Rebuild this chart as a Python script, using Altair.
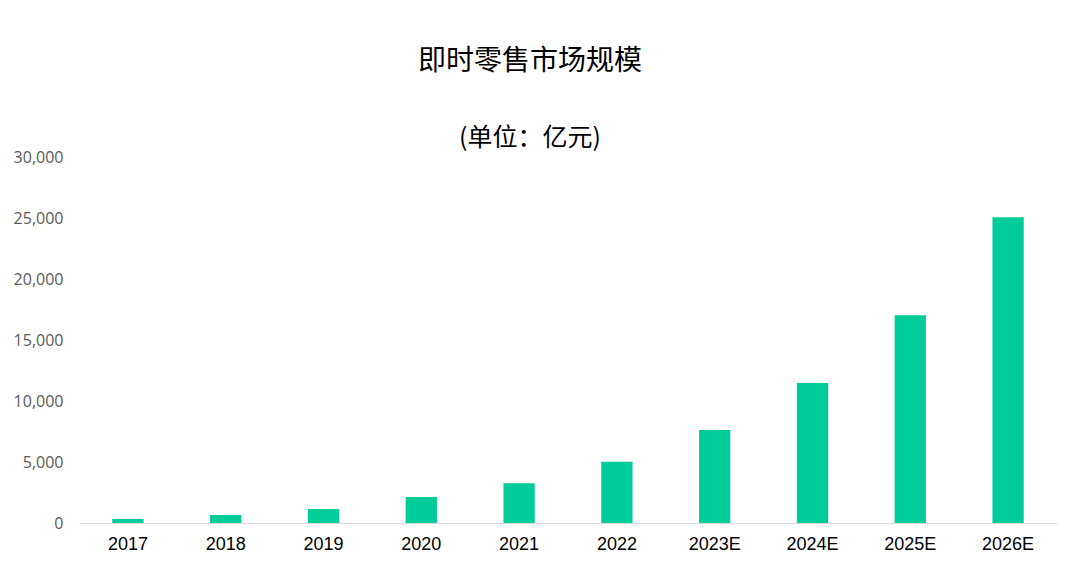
import altair as alt
import pandas as pd

years = ["2017", "2018", "2019", "2020", "2021", "2022", "2023E", "2024E", "2025E", "2026E"]
values = [330, 650, 1150, 2130, 3250, 5020, 7620, 11480, 17020, 25060]

df = pd.DataFrame({"year": years, "value": values})

chart = alt.Chart(df).mark_bar(color="#00CC99").encode(
    x=alt.X("year:N", sort=years, title=None,
            scale=alt.Scale(paddingInner=0.68, paddingOuter=0.34),
            axis=alt.Axis(labelAngle=0, labelFont="Liberation Sans", labelFontSize=18,
                          labelColor="#000000", labelPadding=12, ticks=False,
                          domainColor="#D9D9D9", domainWidth=1)),
    y=alt.Y("value:Q", title=None,
            scale=alt.Scale(domain=[0, 30000]),
            axis=alt.Axis(values=[0, 5000, 10000, 15000, 20000, 25000, 30000], format=",d",
                          labelFont="Open Sans", labelFontSize=16, labelColor="#595959",
                          labelPadding=16, ticks=False, domain=False, grid=False)),
).properties(
    width=978,
    height=366,
    title=alt.TitleParams(
        text="即时零售市场规模",
        subtitle="(单位：亿元)",
        font="Noto Sans CJK SC",
        fontSize=28,
        fontWeight="normal",
        color="#000000",
        subtitleFont="Noto Sans CJK SC",
        subtitleFontSize=25,
        subtitleColor="#000000",
        subtitlePadding=50,
        anchor="middle",
        dx=-38,
        offset=-2,
    ),
    autosize=alt.AutoSizeParams(type="none"),
    padding={"left": 71, "top": 149, "right": 15, "bottom": 36},
    background="#FFFFFF",
).configure_view(strokeWidth=0, stroke="transparent")

chart.save("out.html", embed_options={"renderer": "svg", "actions": False})
